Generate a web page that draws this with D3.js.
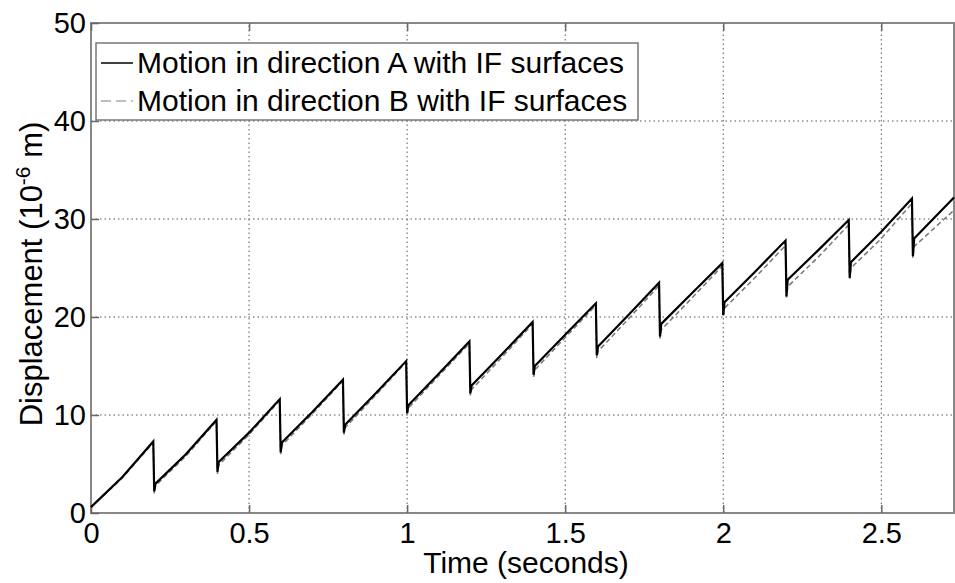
<!DOCTYPE html>
<html>
<head>
<meta charset="utf-8">
<script src="https://cdn.jsdelivr.net/npm/d3@7"></script>
<style>
  body { margin: 0; background: #fff; }
  text { font-family: "Liberation Sans", Arial, sans-serif; }
</style>
</head>
<body>
<div id="chart"></div>
<script>
// time (s) and displacement (1e-6 m)
const seriesA = [
    [0, 0.6], [0.1, 3.7], [0.197, 7.3], [0.2, 2.2], [0.204, 3.0], [0.3, 6.0], [0.397, 9.5],
    [0.4, 4.2], [0.404, 5.2], [0.5, 8.2], [0.597, 11.6], [0.6, 6.2], [0.604, 7.2], [0.7, 10.3],
    [0.797, 13.6], [0.8, 8.2], [0.804, 9.0], [0.9, 12.2], [0.997, 15.5], [1.0, 10.2], [1.004, 11.0],
    [1.1, 14.2], [1.197, 17.5], [1.2, 12.2], [1.204, 13.0], [1.3, 16.2], [1.397, 19.5], [1.4, 14.1],
    [1.404, 15.0], [1.5, 18.2], [1.597, 21.4], [1.6, 16.1], [1.604, 17.0], [1.7, 20.2], [1.797, 23.5],
    [1.8, 18.0], [1.804, 19.3], [1.9, 22.4], [1.997, 25.5], [2.0, 20.2], [2.004, 21.5], [2.1, 24.6],
    [2.197, 27.8], [2.2, 22.1], [2.204, 23.8], [2.3, 26.8], [2.397, 29.9], [2.4, 24.0], [2.404, 25.6],
    [2.5, 28.7], [2.597, 32.1], [2.6, 26.2], [2.604, 28.0], [2.73, 32.2]
];
const seriesB = [
    [0, 0.6], [0.1, 3.6], [0.197, 7.2], [0.2, 2.0], [0.204, 2.8], [0.3, 5.8], [0.397, 9.4],
    [0.4, 4.0], [0.404, 4.9], [0.5, 8.0], [0.597, 11.5], [0.6, 6.0], [0.604, 6.9], [0.7, 10.1],
    [0.797, 13.5], [0.8, 8.0], [0.804, 8.7], [0.9, 12.0], [0.997, 15.4], [1.0, 10.0], [1.004, 10.7],
    [1.1, 14.0], [1.197, 17.3], [1.2, 12.0], [1.204, 12.6], [1.3, 15.9], [1.397, 19.3], [1.4, 13.9],
    [1.404, 14.6], [1.5, 17.9], [1.597, 21.2], [1.6, 15.8], [1.604, 16.5], [1.7, 19.8], [1.797, 23.2],
    [1.8, 17.8], [1.804, 18.7], [1.9, 21.9], [1.997, 25.2], [2.0, 20.0], [2.004, 20.9], [2.1, 24.0],
    [2.197, 27.3], [2.2, 22.0], [2.204, 23.1], [2.3, 26.1], [2.397, 29.4], [2.4, 23.9], [2.404, 25.0],
    [2.5, 28.0], [2.597, 31.6], [2.6, 26.0], [2.604, 27.2], [2.73, 30.9]
];
const xTicks = [0, 0.5, 1, 1.5, 2, 2.5];
const yTicks = [0, 10, 20, 30, 40, 50];
const legendLabels = ["Motion in direction A with IF surfaces", "Motion in direction B with IF surfaces"];

const width = 955;
const height = 583;
const margin = { top: 23, right: 1, bottom: 70, left: 91 };
const font = "'Liberation Sans', Arial, sans-serif";

const svg = d3.select("#chart")
    .append("svg")
    .attr("width", width)
    .attr("height", height);

const x = d3.scaleLinear()
    .domain([0, 2.73])
    .range([margin.left, width - margin.right]);

const y = d3.scaleLinear()
    .domain([0, 50])
    .range([height - margin.bottom, margin.top]);

// dotted grid
svg.append("g")
    .selectAll("line")
    .data(xTicks.slice(1))
    .enter()
    .append("line")
    .attr("x1", d => x(d)).attr("x2", d => x(d))
    .attr("y1", y(0)).attr("y2", y(50))
    .attr("stroke", "#555")
    .attr("stroke-dasharray", "1.5,3");

svg.append("g")
    .selectAll("line")
    .data(yTicks.slice(1, -1))
    .enter()
    .append("line")
    .attr("x1", x(0)).attr("x2", x(2.73))
    .attr("y1", d => y(d)).attr("y2", d => y(d))
    .attr("stroke", "#555")
    .attr("stroke-dasharray", "1.5,3");

// box
svg.append("rect")
    .attr("x", x(0)).attr("y", y(50))
    .attr("width", x(2.73) - x(0))
    .attr("height", y(0) - y(50))
    .attr("fill", "none")
    .attr("stroke", "#888")
    .attr("stroke-width", 2);

// axes, ticks pointing inward
const xAxis = svg.append("g")
    .attr("transform", `translate(0,${y(0)})`)
    .call(d3.axisBottom(x).tickValues(xTicks).tickSize(-8).tickPadding(9).tickFormat(d => d));
const yAxis = svg.append("g")
    .attr("transform", `translate(${x(0)},0)`)
    .call(d3.axisLeft(y).tickValues(yTicks).tickSize(-8).tickPadding(5));
const topAxis = svg.append("g")
    .attr("transform", `translate(0,${y(50)})`)
    .call(d3.axisTop(x).tickValues(xTicks).tickSize(-8).tickFormat(""));

[xAxis, yAxis, topAxis].forEach(a => {
    a.select(".domain").remove();
    a.selectAll(".tick line").attr("stroke", "#666").attr("stroke-width", 1.5);
    a.selectAll(".tick text")
        .attr("fill", "#000")
        .style("font-size", "29px")
        .style("font-family", font);
});

// lines
const line = d3.line()
    .x(d => x(d[0]))
    .y(d => y(d[1]));

svg.append("path")
    .datum(seriesB)
    .attr("d", line)
    .attr("fill", "none")
    .attr("stroke", "#777")
    .attr("stroke-width", 1.5)
    .attr("stroke-dasharray", "5,3");

svg.append("path")
    .datum(seriesA)
    .attr("d", line)
    .attr("fill", "none")
    .attr("stroke", "#000")
    .attr("stroke-width", 2.2);

// axis labels
svg.append("text")
    .attr("x", 526)
    .attr("y", 573)
    .attr("text-anchor", "middle")
    .style("font-size", "30px")
    .text("Time (seconds)");

const yl = svg.append("text")
    .attr("transform", "translate(42,274) rotate(-90)")
    .attr("text-anchor", "middle")
    .style("font-size", "31px");
yl.append("tspan").text("Displacement (10");
yl.append("tspan").attr("dy", -12).style("font-size", "21px").text("-6");
yl.append("tspan").attr("dy", 12).text(" m)");

// legend
const legend = svg.append("g");
legend.append("rect")
    .attr("x", 96).attr("y", 43)
    .attr("width", 542).attr("height", 77)
    .attr("fill", "#fff")
    .attr("stroke", "#777")
    .attr("stroke-width", 1.5);

const legendStyles = [
    { stroke: "#000", dash: null },
    { stroke: "#aaa", dash: "10,5" }
];
legendLabels.forEach((label, i) => {
    const cy = 63 + i * 38;
    legend.append("line")
        .attr("x1", 101).attr("x2", 133)
        .attr("y1", cy).attr("y2", cy)
        .attr("stroke", legendStyles[i].stroke)
        .attr("stroke-width", 1.5)
        .attr("stroke-dasharray", legendStyles[i].dash);
    legend.append("text")
        .attr("x", 137)
        .attr("y", cy + 10)
        .style("font-size", "30px")
        .text(label);
});
</script>
</body>
</html>
